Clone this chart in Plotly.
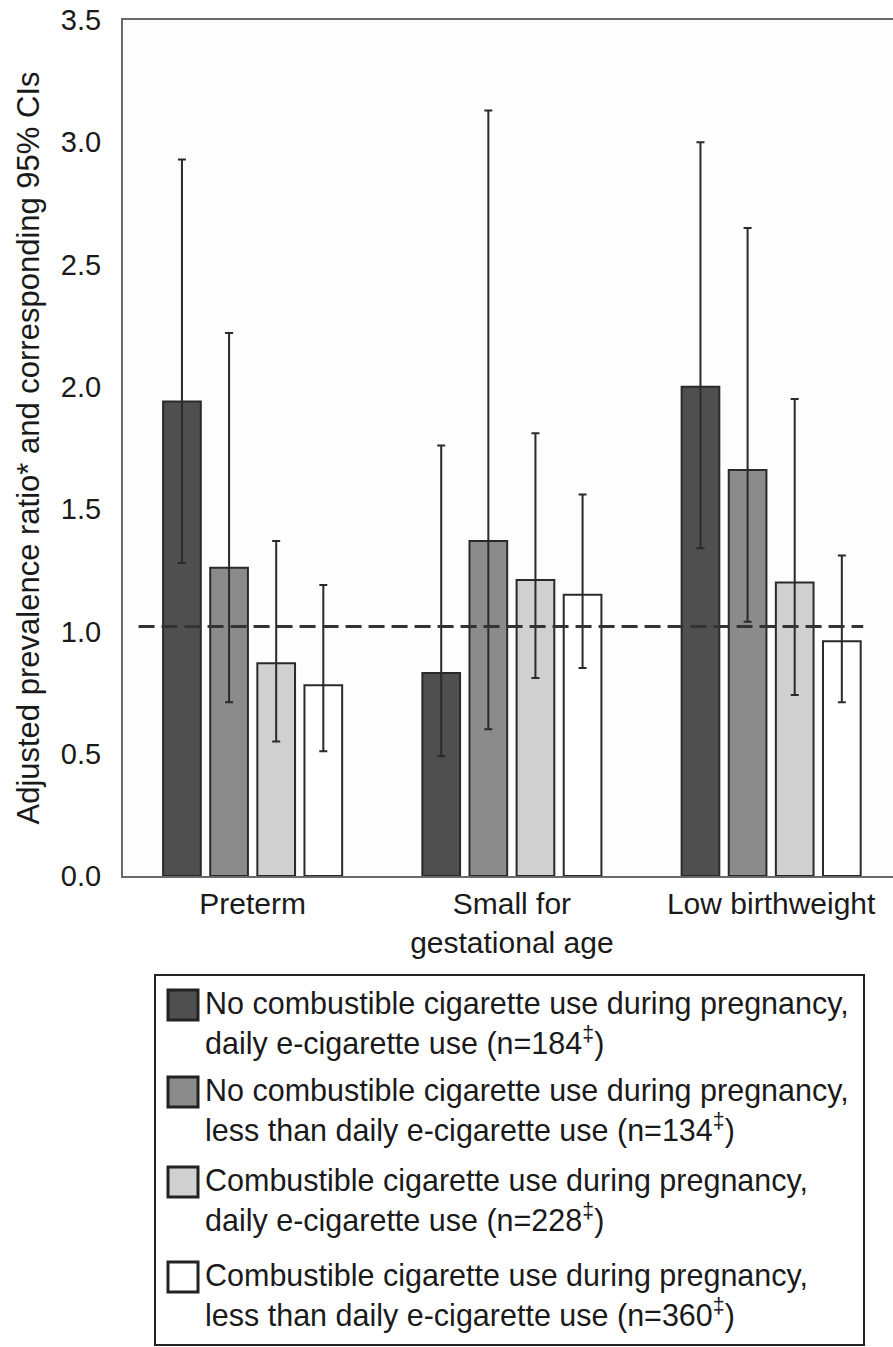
import plotly.graph_objects as go

# ---------------- data ----------------
categories = ["Preterm", "Small for<br>gestational age", "Low birthweight"]

series_names = [
    "No combustible cigarette use during pregnancy,<br>daily e-cigarette use (n=184<sup>‡</sup>)",
    "No combustible cigarette use during pregnancy,<br>less than daily e-cigarette use (n=134<sup>‡</sup>)",
    "Combustible cigarette use during pregnancy,<br>daily e-cigarette use (n=228<sup>‡</sup>)",
    "Combustible cigarette use during pregnancy,<br>less than daily e-cigarette use (n=360<sup>‡</sup>)",
]

pr_nocomb_daily = [1.94, 0.83, 2.00]
hi_nocomb_daily = [2.93, 1.76, 3.00]
lo_nocomb_daily = [1.28, 0.49, 1.34]

pr_nocomb_less = [1.26, 1.37, 1.66]
hi_nocomb_less = [2.22, 3.13, 2.65]
lo_nocomb_less = [0.71, 0.60, 1.04]

pr_comb_daily = [0.87, 1.21, 1.20]
hi_comb_daily = [1.37, 1.81, 1.95]
lo_comb_daily = [0.55, 0.81, 0.74]

pr_comb_less = [0.78, 1.15, 0.96]
hi_comb_less = [1.19, 1.56, 1.31]
lo_comb_less = [0.51, 0.85, 0.71]

reference_level = 1.02

y_ticks = [0.0, 0.5, 1.0, 1.5, 2.0, 2.5, 3.0, 3.5]
y_title = "Adjusted prevalence ratio* and corresponding 95% CIs"

# ---------------- style ----------------
fills = ["#4f4f4f", "#8b8b8b", "#d0d0d0", "#ffffff"]
edge = "#2a2a2a"
FONT = "Liberation Sans, Arial, sans-serif"

values = [pr_nocomb_daily, pr_nocomb_less, pr_comb_daily, pr_comb_less]
highs = [hi_nocomb_daily, hi_nocomb_less, hi_comb_daily, hi_comb_less]
lows = [lo_nocomb_daily, lo_nocomb_less, lo_comb_daily, lo_comb_less]

W, H = 893, 1347
ML, MR, MT, MB = 123, 0, 20, H - 876
PW, PH = W - ML - MR, H - MT - MB

fig = go.Figure()
for name, v, hi, lo, col in zip(series_names, values, highs, lows, fills):
    fig.add_trace(go.Bar(
        x=categories, y=v, name=name, showlegend=False,
        marker=dict(color=col, line=dict(color=edge, width=2)),
        error_y=dict(type="data", symmetric=False,
                     array=[h - a for h, a in zip(hi, v)],
                     arrayminus=[a - l for a, l in zip(v, lo)],
                     color="#2a2a2a", thickness=2, width=4),
    ))

# dashed reference line
fig.add_shape(type="line", xref="x", yref="y", x0=-0.44, x1=2.355,
              y0=reference_level, y1=reference_level, layer="above",
              line=dict(color="#333333", width=3, dash="16px,7px"))

# ---------------- custom legend (px -> paper) ----------------
def px_x(px):
    return (px - ML) / PW

def px_y(py):
    return (H - MB - py) / PH

fig.add_shape(type="rect", xref="paper", yref="paper",
              x0=px_x(155), x1=px_x(864), y0=px_y(1345), y1=px_y(975),
              line=dict(color="#222222", width=2), fillcolor="white", layer="above")

sw_centers = [1005, 1092, 1182, 1277]
for name, col, cy in zip(series_names, fills, sw_centers):
    fig.add_shape(type="rect", xref="paper", yref="paper",
                  x0=px_x(168), x1=px_x(198), y0=px_y(cy + 15), y1=px_y(cy - 15),
                  line=dict(color="#222222", width=3), fillcolor=col, layer="above")
    fig.add_annotation(xref="paper", yref="paper", x=px_x(203), y=px_y(cy + 18),
                       xanchor="left", yanchor="middle", align="left",
                       showarrow=False, text=name,
                       font=dict(family=FONT, size=30.5, color="#1a1a1a"))

fig.update_layout(
    width=W, height=H,
    margin=dict(l=ML, r=MR, t=MT, b=MB, pad=0),
    paper_bgcolor="white", plot_bgcolor="#fdfdfd",
    barmode="group", bargap=0.273, bargroupgap=0.2,
    font=dict(family=FONT, color="#1a1a1a"),
    showlegend=False,
)
fig.update_xaxes(range=[-0.5, 2.47], showline=True, linecolor="#6a6a6a", linewidth=2,
                 mirror=True, showgrid=False, ticks="", zeroline=False,
                 tickfont=dict(size=30, family=FONT, color="#1a1a1a"),
                 ticklabelstandoff=0, ticklabeloverflow="allow", automargin=False)
fig.update_yaxes(range=[0, 3.5], tickvals=y_ticks, ticktext=[f"{t:.1f}" for t in y_ticks],
                 showline=True, linecolor="#6a6a6a", linewidth=2, showgrid=False,
                 zeroline=False, ticks="", ticklabelstandoff=14,
                 ticklabeloverflow="allow",
                 tickfont=dict(size=29, family=FONT, color="#1a1a1a"),
                 title=dict(text=y_title, font=dict(size=31, family=FONT, color="#1a1a1a"),
                            standoff=12),
                 automargin=False)

fig.write_html("out.html", config={"displayModeBar": False},
               post_script="document.body.style.margin='0';document.body.style.overflow='hidden';")
